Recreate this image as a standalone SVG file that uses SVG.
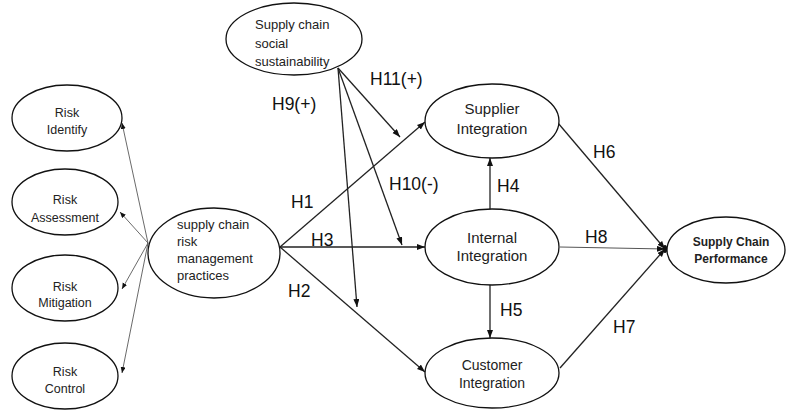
<svg xmlns="http://www.w3.org/2000/svg" width="786" height="411" viewBox="0 0 786 411">
<defs>
<marker id="ah" markerUnits="userSpaceOnUse" markerWidth="9" markerHeight="7" refX="8" refY="3" orient="auto">
<path d="M0,0 L8,3 L0,6 z" fill="#111"/>
</marker>
<marker id="ahs" markerUnits="userSpaceOnUse" markerWidth="7" markerHeight="6" refX="6" refY="2.5" orient="auto">
<path d="M0,0 L6,2.5 L0,5 z" fill="#111"/>
</marker>
<style>
.n{fill:#fff;stroke:#111;stroke-width:1.3}
.t{font-family:"Liberation Sans",Arial,sans-serif;fill:#222;text-anchor:middle}
.tl{font-family:"Liberation Sans",Arial,sans-serif;fill:#222}
.h{font-family:"Liberation Sans",Arial,sans-serif;font-size:17.5px;fill:#111}
.c{stroke:#222;stroke-width:1.3;fill:none;marker-end:url(#ah)}
.cs{stroke:#444;stroke-width:0.8;fill:none;marker-end:url(#ahs)}
</style>
</defs>
<rect width="786" height="411" fill="#fff"/>
<g id="connectors">
<line class="cs" x1="148" y1="243" x2="122" y2="123"/>
<line class="cs" x1="148" y1="243" x2="120" y2="212"/>
<line class="cs" x1="148" y1="243" x2="122" y2="289"/>
<line class="cs" x1="148" y1="243" x2="122" y2="373"/>
<line class="c" x1="338" y1="68" x2="400" y2="137"/>
<line class="c" x1="338" y1="68" x2="402" y2="245"/>
<line class="c" x1="338" y1="68" x2="357" y2="307"/>
<line class="c" x1="280" y1="247" x2="425" y2="122"/>
<line class="c" x1="280" y1="247" x2="425" y2="247"/>
<line class="c" x1="280" y1="247" x2="425" y2="372"/>
<line class="c" x1="490" y1="210" x2="490" y2="158"/>
<line class="c" x1="490" y1="285" x2="490" y2="338"/>
<line class="c" x1="558" y1="123" x2="665" y2="249"/>
<line class="c" x1="560" y1="247" x2="665" y2="249" style="stroke:#555;stroke-width:1"/>
<line class="c" x1="560" y1="368" x2="665" y2="249"/>
<ellipse cx="665" cy="249" rx="2.2" ry="4" fill="#111"/>
</g>
<g id="labels">
<text class="h" x="272" y="110">H9(+)</text>
<text class="h" x="370" y="85">H11(+)</text>
<text class="h" x="389" y="190">H10(-)</text>
<text class="h" x="291" y="208">H1</text>
<text class="h" x="311" y="246">H3</text>
<text class="h" x="288" y="297">H2</text>
<text class="h" x="497" y="192">H4</text>
<text class="h" x="500" y="316">H5</text>
<text class="h" x="593" y="158">H6</text>
<text class="h" x="585" y="243">H8</text>
<text class="h" x="613" y="333">H7</text>
</g>
<g id="risk-identify">
<ellipse class="n" cx="67" cy="118" rx="55" ry="33"/>
<text class="t" x="67" y="117" font-size="12.5">Risk</text>
<text class="t" x="67" y="134" font-size="12.5">Identify</text>
</g>
<g id="risk-assessment">
<ellipse class="n" cx="65" cy="202" rx="53" ry="33"/>
<text class="t" x="65" y="204" font-size="12.5">Risk</text>
<text class="t" x="65" y="222" font-size="12.5">Assessment</text>
</g>
<g id="risk-mitigation">
<ellipse class="n" cx="65" cy="288" rx="53" ry="33"/>
<text class="t" x="65" y="291" font-size="12.5">Risk</text>
<text class="t" x="65" y="307" font-size="12.5">Mitigation</text>
</g>
<g id="risk-control">
<ellipse class="n" cx="65" cy="376" rx="53" ry="33"/>
<text class="t" x="65" y="376" font-size="12.5">Risk</text>
<text class="t" x="65" y="393" font-size="12.5">Control</text>
</g>
<g id="scrm">
<ellipse class="n" cx="214" cy="253" rx="66" ry="45"/>
<text class="tl" x="177" y="229" font-size="13">supply chain</text>
<text class="tl" x="177" y="246" font-size="13">risk</text>
<text class="tl" x="177" y="263" font-size="13">management</text>
<text class="tl" x="177" y="280" font-size="13">practices</text>
</g>
<g id="social-sustainability">
<ellipse class="n" cx="294" cy="39" rx="68" ry="36"/>
<text class="tl" x="255" y="29" font-size="13">Supply chain</text>
<text class="tl" x="255" y="48" font-size="13">social</text>
<text class="tl" x="255" y="66" font-size="13">sustainability</text>
</g>
<g id="supplier-integration">
<ellipse class="n" cx="492" cy="121" rx="67" ry="37"/>
<text class="t" x="492" y="114" font-size="15">Supplier</text>
<text class="t" x="492" y="134" font-size="15">Integration</text>
</g>
<g id="internal-integration">
<ellipse class="n" cx="492" cy="247" rx="67" ry="38"/>
<text class="t" x="492" y="243" font-size="15">Internal</text>
<text class="t" x="492" y="261" font-size="15">Integration</text>
</g>
<g id="customer-integration">
<ellipse class="n" cx="492" cy="373" rx="67" ry="35"/>
<text class="t" x="492" y="370" font-size="14">Customer</text>
<text class="t" x="492" y="388" font-size="14">Integration</text>
</g>
<g id="performance">
<ellipse class="n" cx="726" cy="250" rx="59" ry="33"/>
<text class="t" x="731" y="246" font-size="12" font-weight="bold">Supply Chain</text>
<text class="t" x="731" y="263" font-size="12" font-weight="bold">Performance</text>
</g>
</svg>
